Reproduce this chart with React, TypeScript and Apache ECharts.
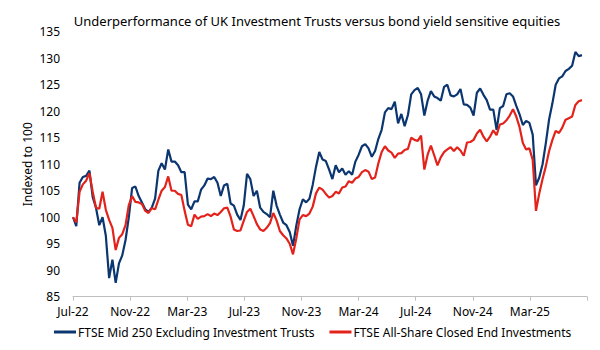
import React, { useEffect, useRef } from "react";
import * as echarts from "echarts";

const TITLE = "Underperformance of UK Investment Trusts versus bond yield sensitive equities";
const Y_NAME = "Indexed to 100";
const TICK_LABELS = ["Jul-22", "Nov-22", "Mar-23", "Jul-23", "Nov-23", "Mar-24", "Jul-24", "Nov-24", "Mar-25"];
const SERIES_NAMES = ["FTSE Mid 250 Excluding Investment Trusts", "FTSE All-Share Closed End Investments"];

// weekly values starting 1 Jul 2022
const midCap = [
  100, 98.3, 106.5, 107.6, 107.8, 108.8, 103.8, 101.8, 98.5, 100, 96.5, 88.5, 92, 87.6, 91.3, 92.8,
  95.7, 100, 105.5, 105.8, 104, 102.8, 101.5, 101, 101.8, 103.5, 108.8, 110.2, 109, 112.8, 110.5, 110.5,
  109.8, 108.5, 108.5, 102.4, 101.5, 103, 103, 105.2, 106, 107.3, 107.2, 107.6, 106.5, 104, 106, 106.3,
  102.6, 102.2, 100.5, 99.5, 102.2, 108.2, 107.2, 104, 105, 101.8, 101, 100.6, 100, 105, 102.2, 100.5,
  99, 98.5, 97.2, 94.6, 98.4, 101.5, 103.4, 102.8, 103.5, 106.1, 109.5, 112.3, 110.9, 110.6, 109, 107.2,
  109.8, 108.5, 109.2, 108, 108.7, 108, 110.5, 111.8, 113.4, 113.8, 113, 111.4, 112.5, 114.8, 116.5, 119.8,
  120.6, 120.4, 121.8, 117.7, 119.5, 117.2, 119.3, 123.2, 124, 124.4, 123.2, 119.2, 122, 123.8, 122.8, 122.5,
  122, 124.6, 125, 123, 122.8, 123.2, 124.2, 121.3, 121.2, 120.7, 119.2, 123.5, 124.3, 123.1, 122.1, 120.3,
  120.3, 116.5, 120.6, 121, 123.2, 123.4, 122.8, 121, 119.4, 117.4, 118.2, 117.8, 115.6, 106, 107.5, 110,
  114, 118.5, 121.5, 125, 126.2, 126.6, 127.6, 128, 128.6, 131.2, 130.4, 130.6,
];

const closedEnd = [
  100, 99, 104.8, 106.2, 106.9, 108.3, 104.8, 101.8, 101.6, 104.8, 101.4, 99.5, 98, 93.8, 96.1, 96.8,
  98.5, 102.3, 104, 102.9, 102.8, 102.5, 101.2, 100.8, 101.7, 101.5, 103.3, 105, 105.7, 107.7, 105, 105,
  104.4, 104.2, 101.2, 98.6, 98.3, 100.5, 99.7, 100.1, 100.2, 100.6, 100.2, 100.7, 100.4, 101, 101.7, 101.8,
  100.1, 97.7, 97.4, 97.5, 99.3, 101, 101.6, 100.2, 98.7, 97.7, 97.4, 98, 98.9, 100.8, 99.4, 97.4,
  96.6, 96, 95, 93, 96, 99.6, 100.4, 100.2, 100.7, 102, 104.5, 105.6, 105.2, 104.4, 103.7, 104,
  104.8, 104.5, 105.6, 105.8, 106.8, 106.5, 107.3, 107.6, 108.5, 108.9, 108.6, 107.2, 107.5, 110.2, 112.3, 113.4,
  112.6, 112.2, 111.2, 112, 112.1, 112.7, 112.9, 115, 114.6, 114.4, 115.4, 109, 111.8, 113.5, 111.7, 109.8,
  111.3, 112.3, 112.8, 113.2, 112.5, 113.2, 112.6, 111.6, 114.1, 114.2, 114.6, 115.8, 116.5, 115.2, 114.3, 115.2,
  116.4, 115.5, 117.5, 117.7, 118.3, 119.2, 120.4, 119, 117, 114, 112.8, 113, 110.8, 101.2, 104.5, 107.2,
  109.6, 112.5, 114.6, 116.3, 115.9, 116.9, 118.4, 118.7, 119, 121.2, 121.9, 122.1,
];

const DAYS_PER_MONTH = 30.4375;
const toPoints = (vals: number[]) => vals.map((v, i) => [(i * 7) / DAYS_PER_MONTH, v]);

const FONT = "'Noto Sans', sans-serif";

export default function App() {
  const ref = useRef<HTMLDivElement>(null);
  useEffect(() => {
    if (!ref.current) return;
    const chart = echarts.init(ref.current, null, { renderer: "svg" });
    chart.setOption({
      animation: false,
      textStyle: { fontFamily: FONT },
      title: {
        text: TITLE,
        left: 312,
        top: 9,
        textAlign: "center",
        textStyle: { fontSize: 13, fontWeight: "normal", color: "#000", fontFamily: FONT },
      },
      grid: { left: 73, right: 13, top: 31.8, bottom: 53.3, containLabel: false },
      xAxis: {
        type: "value",
        min: 0,
        max: 36,
        interval: 4,
        axisLine: { show: true, lineStyle: { color: "#bfbfbf", width: 1 } },
        axisTick: { show: true, length: 4, lineStyle: { color: "#bfbfbf" } },
        splitLine: { show: false },
        axisLabel: {
          color: "#000",
          fontSize: 12,
          margin: 9,
          fontFamily: FONT,
          formatter: (v: number) => TICK_LABELS[Math.round(v / 4)] ?? "",
        },
      },
      yAxis: {
        type: "value",
        min: 85,
        max: 135,
        interval: 5,
        name: Y_NAME,
        nameLocation: "middle",
        nameGap: 40,
        nameMoveOverlap: false,
        nameTextStyle: { color: "#000", fontSize: 12, fontFamily: FONT },
        axisLine: { show: false },
        axisTick: { show: false },
        splitLine: { show: false },
        axisLabel: { color: "#000", fontSize: 12, margin: 13, fontFamily: FONT },
      },
      legend: {
        bottom: 7,
        left: 49,
        icon: "rect",
        itemWidth: 22,
        itemHeight: 3,
        itemGap: 15,
        textStyle: { color: "#000", fontSize: 12, fontFamily: FONT, padding: [0, 0, 0, -3] },
        data: SERIES_NAMES,
      },
      series: [
        {
          name: SERIES_NAMES[0],
          type: "line",
          data: toPoints(midCap),
          showSymbol: false,
          lineStyle: { color: "#0b3670", width: 2.2 },
          itemStyle: { color: "#0b3670" },
          z: 2,
        },
        {
          name: SERIES_NAMES[1],
          type: "line",
          data: toPoints(closedEnd),
          showSymbol: false,
          lineStyle: { color: "#e3231b", width: 2.2 },
          itemStyle: { color: "#e3231b" },
          z: 3,
        },
      ],
    });
    return () => chart.dispose();
  }, []);
  return <div ref={ref} style={{ width: 600, height: 350, margin: -8 }} />;
}
